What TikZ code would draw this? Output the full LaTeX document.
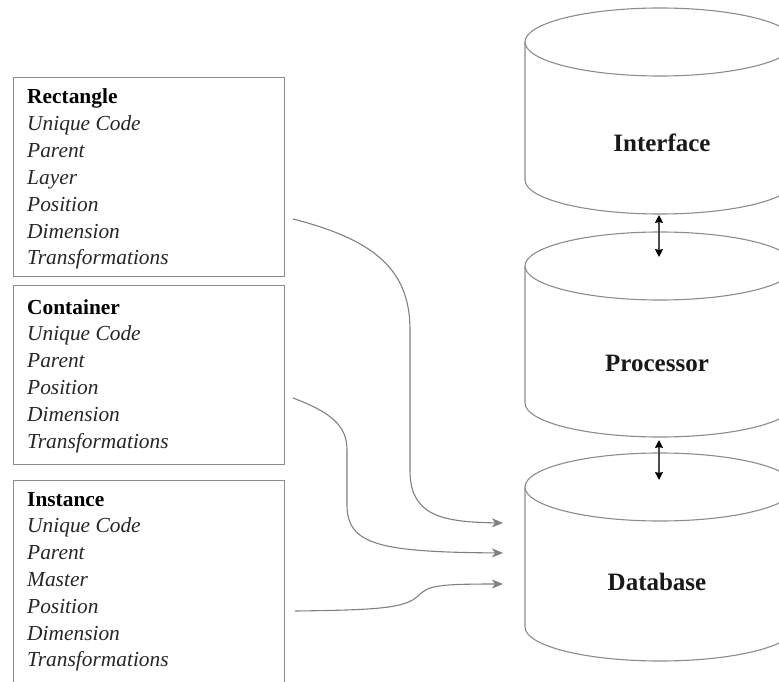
\documentclass[tikz,border=0pt]{standalone}
\usepackage{fontspec}
\setmainfont{Liberation Serif}
\usetikzlibrary{arrows.meta}
\begin{document}
\begin{tikzpicture}[x=1pt,y=-1pt,
  frame/.style={draw=black!45, line width=1.4pt, inner sep=0pt, anchor=north west, minimum width=271pt},
  field/.style={anchor=base west, inner sep=0pt, text=black!85,
    font=\fontsize{21.4}{24}\selectfont\itshape},
  heading/.style={anchor=base west, inner sep=0pt, text=black,
    font=\fontsize{21.4}{24}\selectfont\bfseries},
  drum/.style={draw=black!45, line width=1.1pt},
  drumlabel/.style={inner sep=0pt, text=black!90, font=\fontsize{25}{28}\selectfont\bfseries},
  link/.style={draw=black!50, line width=1.1pt, -{Stealth[length=11pt,width=9pt,inset=3pt]}},
  pipe/.style={draw=black!70, line width=1.6pt,
    {Stealth[length=8pt,width=8pt,inset=1pt,color=black]}-{Stealth[length=8pt,width=8pt,inset=1pt,color=black]}}]

\useasboundingbox (0,0) rectangle (779,682);
\clip (0,0) rectangle (779,682);

% --- record boxes on the left ---
\node[frame, minimum height=199pt] (rectbox) at (13,77) {};
\node[heading] (recttitle) at (27,104) {Rectangle};
\foreach \t [count=\i from 1] in {Unique Code, Parent, Layer, Position, Dimension, Transformations}
  \node[field] (rf\i) at (27,{104+26.8*\i}) {\t};

\node[frame, minimum height=179pt] (contbox) at (13,285) {};
\node[heading] (conttitle) at (27,314) {Container};
\foreach \t [count=\i from 1] in {Unique Code, Parent, Position, Dimension, Transformations}
  \node[field] (cf\i) at (27,{314+26.8*\i}) {\t};

\node[frame, minimum height=260pt] (instbox) at (13,480) {};
\node[heading] (insttitle) at (27,506) {Instance};
\foreach \t [count=\i from 1] in {Unique Code, Parent, Master, Position, Dimension, Transformations}
  \node[field] (if\i) at (27,{506+26.8*\i}) {\t};

% --- storage drums on the right ---
\foreach \top/\bot in {42/180, 266/403, 487/627}{
  \draw[drum] (525,\top) -- (525,\bot)
     arc[start angle=180, end angle=0, x radius=135, y radius=34] -- (795,\top);
  \draw[drum, fill=white] (660,\top) ellipse[x radius=135, y radius=34];
}
\node[drumlabel] (iface) at (662,143) {Interface};
\node[drumlabel] (proc) at (657,363) {Processor};
\node[drumlabel] (dbase) at (657,582) {Database};

% --- links between the drums ---
\coordinate (ifaceout) at (659,215);
\coordinate (procin) at (659,257);
\coordinate (procout) at (659,440);
\coordinate (dbin) at (659,480);
\draw[pipe] (ifaceout) -- (procin);
\draw[pipe] (procout) -- (dbin);

% --- records flowing into the database ---
\coordinate (s1) at (293,219);
\coordinate (s2) at (293,398);
\coordinate (s3) at (295,611);
\coordinate (e1) at (503,523);
\coordinate (e2) at (503,553);
\coordinate (e3) at (503,584);

\draw[link] (s1) .. controls (375,240) and (410,270) .. (410,330) -- (410,470)
  .. controls (410,515) and (440,522) .. (e1);
\draw[link] (s2) .. controls (330,412) and (347,425) .. (347,450) -- (347,505)
  .. controls (347,545) and (380,552) .. (e2);
\draw[link] (s3) .. controls (380,610) and (405,608) .. (418,596)
  .. controls (428,586) and (435,584) .. (e3);
\end{tikzpicture}
\end{document}
